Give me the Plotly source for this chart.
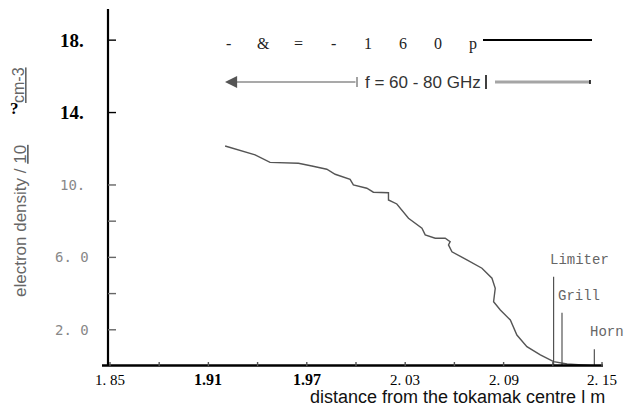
import plotly.graph_objects as go

# ---------------- data ----------------
distance_m = [1.9202, 1.9385, 1.9476, 1.9649, 1.9731, 1.9822, 1.9873, 1.9964, 1.9984,
              2.0066, 2.0106, 2.0198, 2.0198, 2.0249, 2.0320, 2.0402, 2.0422, 2.0483,
              2.0544, 2.0574, 2.0564, 2.0585, 2.0676, 2.0768, 2.0829, 2.0849, 2.0839,
              2.0880, 2.0941, 2.0981, 2.1042, 2.1124, 2.1205, 2.1287, 2.1447]
density = [12.15, 11.66, 11.25, 11.20, 11.05, 10.87, 10.59, 10.31, 10.00,
           9.82, 9.60, 9.57, 9.17, 8.95, 8.16, 7.61, 7.24, 7.06,
           7.06, 6.87, 6.69, 6.31, 5.86, 5.40, 4.85, 4.29, 3.55,
           3.09, 2.54, 1.71, 1.07, 0.61, 0.24, 0.11, 0.02]

marker_names = ["Limiter", "Grill", "Horn"]
marker_pos = [2.1205, 2.1256, 2.1453]
marker_height = [4.93, 2.94, 0.92]

x_tick_vals = [1.85, 1.88, 1.91, 1.94, 1.97, 2.00, 2.03, 2.06, 2.09, 2.12, 2.15]
x_label_vals = [1.85, 1.91, 1.97, 2.03, 2.09, 2.15]
x_label_text = ["1. 85", "1.91", "1.97", "2. 03", "2. 09", "2. 15"]
x_label_bold = [False, True, True, False, False, False]

y_tick_vals = [2, 4, 6, 8, 10, 14, 18]
y_label_vals = [2, 6, 10, 14, 18]
y_label_text = ["2. 0", "6. 0", "10.", "14.", "18."]
y_label_bold = [False, False, False, True, True]

legend_chars = ["-", "&", "=", "-", "1", "6", "0", "p"]
freq_text = "f = 60 - 80 GHz"

X_RANGE = [1.8488, 2.1506]
Y_RANGE = [0, 19.72]

# ---------------- geometry helpers (pixels -> paper) ----------------
W, H = 634, 406
L, R, T, B = 108, 31, 9, 40
PW, PH = W - L - R, H - T - B


def px(x):
    return (x - L) / PW


def py(y):
    return (H - B - y) / PH


fig = go.Figure()

fig.add_trace(go.Scatter(x=distance_m, y=density, mode="lines",
                         line=dict(color="#555555", width=1.4),
                         showlegend=False, hoverinfo="skip"))

for name, pos, h in zip(marker_names, marker_pos, marker_height):
    fig.add_trace(go.Scatter(x=[pos, pos], y=[0, h], mode="lines",
                             line=dict(color="#444444", width=1.1),
                             showlegend=False, hoverinfo="skip"))

shapes = []
annotations = []

# axis lines
shapes.append(dict(type="line", xref="paper", yref="paper",
                   x0=0, x1=0, y0=0, y1=1, line=dict(color="black", width=2.2)))
shapes.append(dict(type="line", xref="paper", yref="paper",
                   x0=px(102), x1=1, y0=py(365.5), y1=py(365.5),
                   line=dict(color="black", width=2.6)))

# x ticks crossing axis
for v in x_tick_vals:
    shapes.append(dict(type="line", xref="x", yref="y", ysizemode="pixel",
                       yanchor=0, x0=v, x1=v, y0=-7, y1=4,
                       line=dict(color="#555555", width=1.4)))
# y ticks crossing axis
for v in y_tick_vals:
    col = "black" if v >= 14 else "#666666"
    shapes.append(dict(type="line", xref="x", yref="y", xsizemode="pixel",
                       xanchor=X_RANGE[0], x0=-7, x1=8, y0=v, y1=v,
                       line=dict(color=col, width=1.4)))

# x tick labels
for v, t, b in zip(x_label_vals, x_label_text, x_label_bold):
    annotations.append(dict(x=v, y=py(379.5), xref="x", yref="paper", text=t,
                            showarrow=False, xanchor="center", yanchor="middle",
                            font=dict(family="Liberation Serif", size=16 if b else 15,
                                      color="black", weight="bold" if b else "normal")))
# y tick labels
for v, t, b in zip(y_label_vals, y_label_text, y_label_bold):
    if b:
        f = dict(family="Liberation Serif", size=19, color="black", weight="bold")
    else:
        f = dict(family="DejaVu Sans Mono", size=14, color="#888888")
    annotations.append(dict(x=px(72), y=v, xref="paper", yref="y", text=t,
                            showarrow=False, xanchor="center", yanchor="middle", font=f))

# marker labels
for name, pos, h in zip(marker_names, marker_pos, marker_height):
    annotations.append(dict(x=pos, y=h, xref="x", yref="y", text=name,
                            showarrow=False, xanchor="left", yanchor="middle",
                            xshift=-6, yshift=17,
                            font=dict(family="Liberation Mono", size=14, color="#666666")))

# axis titles
annotations.append(dict(x=px(20), y=py(221), xref="paper", yref="paper",
                        text="electron density / <u>10</u>", textangle=-90,
                        showarrow=False, xanchor="center", yanchor="middle",
                        font=dict(family="Liberation Sans", size=17, color="#666666")))
annotations.append(dict(x=px(18), y=py(85), xref="paper", yref="paper",
                        text="<u>cm-3</u>", textangle=-90,
                        showarrow=False, xanchor="center", yanchor="middle",
                        font=dict(family="Liberation Sans", size=16, color="#666666")))
annotations.append(dict(x=px(14), y=py(108), xref="paper", yref="paper",
                        text="?", showarrow=False, xanchor="center", yanchor="middle",
                        font=dict(family="Liberation Serif", size=17, color="black",
                                  weight="bold")))
annotations.append(dict(x=px(457), y=py(397.5), xref="paper", yref="paper",
                        text="distance from the tokamak centre l m",
                        showarrow=False, xanchor="center", yanchor="middle",
                        font=dict(family="Liberation Sans", size=18, color="#111111")))

# top legend-like annotations
for i, ch in enumerate(legend_chars):
    annotations.append(dict(x=px(228 + 35 * i), y=py(44), xref="paper", yref="paper",
                            text=ch, showarrow=False, xanchor="center", yanchor="middle",
                            font=dict(family="Liberation Serif", size=16, color="#222222")))
shapes.append(dict(type="line", xref="paper", yref="paper",
                   x0=px(483), x1=px(592), y0=py(40), y1=py(40),
                   line=dict(color="black", width=2)))

annotations.append(dict(x=px(423), y=py(82), xref="paper", yref="paper",
                        text=freq_text, showarrow=False, xanchor="center",
                        yanchor="middle",
                        font=dict(family="Liberation Sans", size=17, color="#333333")))
# arrow
annotations.append(dict(x=px(225), y=py(82), xref="paper", yref="paper", text="",
                        showarrow=True, ax=132, ay=0, arrowhead=2, arrowsize=2.2,
                        arrowwidth=1.1, arrowcolor="#555555"))
shapes.append(dict(type="line", xref="paper", yref="paper",
                   x0=px(357), x1=px(357), y0=py(77), y1=py(87),
                   line=dict(color="#666666", width=1.2)))
shapes.append(dict(type="line", xref="paper", yref="paper",
                   x0=px(486), x1=px(486), y0=py(75), y1=py(89),
                   line=dict(color="black", width=1.5)))
shapes.append(dict(type="line", xref="paper", yref="paper",
                   x0=px(495), x1=px(590), y0=py(82), y1=py(82),
                   line=dict(color="#a5a5a5", width=3)))
shapes.append(dict(type="line", xref="paper", yref="paper",
                   x0=px(590), x1=px(590), y0=py(80), y1=py(84),
                   line=dict(color="black", width=1.5)))

fig.update_layout(
    width=W, height=H,
    margin=dict(l=L, r=R, t=T, b=B),
    paper_bgcolor="white", plot_bgcolor="white",
    xaxis=dict(range=X_RANGE, showgrid=False, zeroline=False, showline=False,
               showticklabels=False, ticks=""),
    yaxis=dict(range=Y_RANGE, showgrid=False, zeroline=False, showline=False,
               showticklabels=False, ticks=""),
    shapes=shapes, annotations=annotations, showlegend=False,
)

fig.write_html("out.html", config={"displayModeBar": False},
               post_script="document.body.style.margin='0';document.body.style.overflow='hidden';")
